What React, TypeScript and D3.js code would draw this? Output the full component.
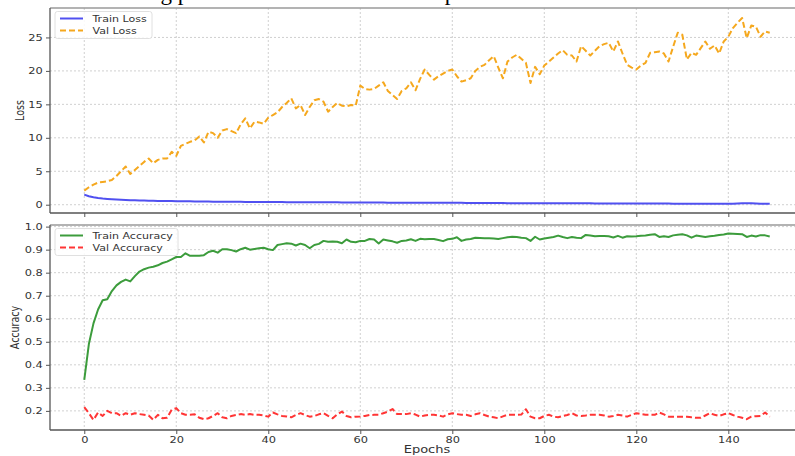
import React, { useEffect, useRef } from "react";
import * as d3 from "d3";

// epochs 0..149
const epochs = d3.range(150);

const trainLoss = [
  1.5, 1.26, 1.1, 0.99, 0.91, 0.85, 0.8, 0.76, 0.73, 0.7,
  0.68, 0.66, 0.64, 0.62, 0.6, 0.59, 0.57, 0.56, 0.55, 0.54,
  0.52, 0.51, 0.5, 0.5, 0.49, 0.48, 0.47, 0.47, 0.46, 0.45,
  0.45, 0.44, 0.44, 0.43, 0.43, 0.42, 0.42, 0.41, 0.41, 0.41,
  0.4, 0.4, 0.39, 0.39, 0.38, 0.38, 0.38, 0.37, 0.37, 0.37,
  0.36, 0.36, 0.36, 0.35, 0.35, 0.35, 0.34, 0.34, 0.34, 0.33,
  0.33, 0.33, 0.33, 0.32, 0.32, 0.32, 0.31, 0.31, 0.31, 0.31,
  0.3, 0.3, 0.3, 0.3, 0.29, 0.29, 0.29, 0.29, 0.28, 0.28,
  0.28, 0.28, 0.28, 0.27, 0.27, 0.27, 0.27, 0.27, 0.26, 0.26,
  0.24, 0.24, 0.23, 0.23, 0.23, 0.23, 0.22, 0.23, 0.22, 0.22,
  0.22, 0.21, 0.21, 0.21, 0.21, 0.21, 0.2, 0.2, 0.2, 0.2,
  0.2, 0.19, 0.19, 0.19, 0.19, 0.19, 0.18, 0.18, 0.18, 0.18,
  0.18, 0.18, 0.17, 0.17, 0.17, 0.17, 0.17, 0.17, 0.16, 0.16,
  0.16, 0.16, 0.16, 0.16, 0.15, 0.15, 0.15, 0.15, 0.15, 0.15,
  0.15, 0.16, 0.18, 0.2, 0.21, 0.2, 0.18, 0.16, 0.15, 0.15,
];

const valLoss = [
  2.1, 2.6, 3.0, 3.3, 3.4, 3.5, 3.7, 4.3, 5.0, 5.7,
  4.6, 5.2, 5.8, 6.4, 6.9, 6.2, 6.7, 6.9, 6.9, 7.9,
  7.3, 8.8, 9.1, 9.4, 9.6, 10.2, 9.3, 10.9, 10.7, 10.0,
  11.1, 11.3, 11.0, 10.7, 12.0, 12.9, 11.4, 12.4, 12.3, 12.1,
  13.0, 13.4, 13.8, 14.6, 15.2, 15.9, 14.4, 14.9, 13.4, 14.6,
  15.6, 15.8, 15.4, 13.9, 14.6, 15.2, 14.8, 14.7, 14.9, 14.8,
  17.8, 17.3, 17.2, 17.3, 17.8, 18.3, 17.0, 16.4, 15.8, 17.0,
  17.4, 18.3, 17.1, 18.8, 20.2, 19.4, 18.7, 19.2, 19.6, 20.0,
  20.2, 19.2, 18.4, 18.6, 18.9, 20.0, 20.6, 20.9, 21.6, 22.2,
  20.5, 18.9, 21.4, 22.0, 22.4, 21.8, 21.2, 18.2, 20.6, 19.5,
  20.8, 21.4, 22.0, 22.6, 23.1, 22.4, 22.3, 21.4, 23.7, 23.0,
  22.3, 23.0, 23.7, 24.0, 24.2, 22.9, 24.4, 22.6, 20.9, 20.5,
  20.2, 20.8, 21.2, 22.7, 22.8, 22.9, 22.6, 21.4, 23.6, 25.7,
  25.4, 21.7, 22.7, 22.4, 23.4, 24.4, 23.3, 23.8, 22.6, 24.4,
  25.1, 26.4, 27.2, 27.9, 24.9, 26.8, 26.6, 25.1, 25.9, 25.7,
];

const trainAcc = [
  0.335, 0.49, 0.58, 0.64, 0.68, 0.685, 0.72, 0.745, 0.76, 0.77,
  0.762, 0.785, 0.805, 0.815, 0.822, 0.826, 0.832, 0.842, 0.848, 0.858,
  0.868, 0.868, 0.884, 0.873, 0.874, 0.874, 0.876, 0.89, 0.895, 0.887,
  0.902, 0.902, 0.898, 0.892, 0.902, 0.908, 0.9, 0.903, 0.906, 0.908,
  0.902, 0.898, 0.92, 0.924, 0.928, 0.926, 0.918, 0.926, 0.92, 0.906,
  0.92, 0.925, 0.938, 0.934, 0.935, 0.934, 0.928, 0.944, 0.934, 0.932,
  0.938, 0.938, 0.946, 0.944, 0.927, 0.944, 0.94, 0.936, 0.93, 0.938,
  0.94, 0.945, 0.938, 0.947, 0.945, 0.946, 0.946, 0.942, 0.937, 0.945,
  0.947, 0.954, 0.938, 0.944, 0.946, 0.952, 0.951, 0.95, 0.949, 0.948,
  0.946, 0.95, 0.954, 0.956, 0.955, 0.952, 0.95, 0.938, 0.956, 0.944,
  0.948, 0.952, 0.955, 0.961, 0.955, 0.95, 0.955, 0.952, 0.95, 0.964,
  0.961, 0.958, 0.959, 0.959, 0.958, 0.953, 0.96, 0.952, 0.958, 0.957,
  0.958, 0.96, 0.961, 0.965, 0.967, 0.955, 0.958, 0.955, 0.962, 0.965,
  0.967, 0.962, 0.952, 0.961, 0.958, 0.955, 0.958, 0.96, 0.964, 0.966,
  0.97, 0.969, 0.968, 0.967, 0.955, 0.961, 0.957, 0.963, 0.962, 0.957,
];

const valAcc = [
  0.216, 0.19, 0.161, 0.193, 0.178, 0.2, 0.19, 0.19, 0.178, 0.19,
  0.183, 0.19, 0.186, 0.183, 0.18, 0.161, 0.183, 0.168, 0.17, 0.205,
  0.212, 0.19, 0.183, 0.183, 0.185, 0.17, 0.164, 0.168, 0.178, 0.19,
  0.172, 0.168, 0.178, 0.182, 0.186, 0.183, 0.186, 0.183, 0.183, 0.18,
  0.175, 0.193, 0.185, 0.178, 0.176, 0.172, 0.182, 0.19, 0.182, 0.175,
  0.178, 0.185, 0.19, 0.178, 0.168, 0.185, 0.197, 0.178, 0.172, 0.175,
  0.176, 0.178, 0.182, 0.183, 0.183, 0.19, 0.197, 0.208, 0.186, 0.186,
  0.186, 0.19, 0.184, 0.175, 0.18, 0.183, 0.183, 0.18, 0.175, 0.185,
  0.19, 0.186, 0.183, 0.183, 0.178, 0.185, 0.19, 0.182, 0.175, 0.172,
  0.168, 0.176, 0.183, 0.183, 0.183, 0.184, 0.207, 0.175, 0.168, 0.168,
  0.178, 0.183, 0.175, 0.172, 0.178, 0.182, 0.19, 0.18, 0.178, 0.18,
  0.183, 0.183, 0.183, 0.18, 0.175, 0.178, 0.183, 0.18, 0.175, 0.183,
  0.19, 0.186, 0.183, 0.183, 0.183, 0.193, 0.185, 0.175, 0.175, 0.175,
  0.175, 0.175, 0.172, 0.17, 0.17, 0.18, 0.19, 0.183, 0.178, 0.185,
  0.19, 0.182, 0.175, 0.17, 0.164, 0.175, 0.177, 0.178, 0.193, 0.175,
];

const xTicks = [0, 20, 40, 60, 80, 100, 120, 140];
const lossTicks = [0, 5, 10, 15, 20, 25];
const accTicks = [0.2, 0.3, 0.4, 0.5, 0.6, 0.7, 0.8, 0.9, 1.0];
const titleText = "Learning performance of model over epochs";

const W = 795;
const H = 456;
const FONT = "DejaVu Sans, sans-serif";

const App: React.FC = () => {
  const svgRef = useRef<SVGSVGElement | null>(null);

  useEffect(() => {
    const svg = d3.select(svgRef.current);
    svg.selectAll("*").remove();

    const left = 50;
    const right = 804;
    const x = d3.scaleLinear().domain([-7.45, 156.45]).range([left, right]);

    // clipped title from the page above the figure
    svg
      .append("text")
      .attr("x", 89)
      .attr("y", 0.3)
      .style("font-family", "Liberation Serif, Times New Roman, serif")
      .style("font-size", "23px")
      .attr("fill", "#000")
      .text(titleText);

    const panels = [
      {
        id: "loss",
        top: 8,
        bottom: 213,
        domain: [-1.24, 29.4],
        ticks: lossTicks,
        fmt: d3.format("d"),
        label: "Loss",
        labelX: 20,
        showX: false,
        series: [
          { name: "Train Loss", values: trainLoss, color: "#5050f0", dash: null },
          { name: "Val Loss", values: valLoss, color: "#f5a81e", dash: "6,3" },
        ],
        legendW: 97,
      },
      {
        id: "acc",
        top: 225,
        bottom: 430,
        domain: [0.117, 1.007],
        ticks: accTicks,
        fmt: d3.format(".1f"),
        label: "Accuracy",
        labelX: 15,
        showX: true,
        series: [
          { name: "Train Accuracy", values: trainAcc, color: "#3c9c3c", dash: null },
          { name: "Val Accuracy", values: valAcc, color: "#ff3535", dash: "6,3" },
        ],
        legendW: 123,
      },
    ];

    panels.forEach((p) => {
      const y = d3.scaleLinear().domain(p.domain).range([p.bottom, p.top]);
      const g = svg.append("g");

      g.append("clipPath")
        .attr("id", `clip-${p.id}`)
        .append("rect")
        .attr("x", left)
        .attr("y", p.top)
        .attr("width", right - left)
        .attr("height", p.bottom - p.top);

      // grid
      g.selectAll(".vgrid")
        .data(xTicks)
        .enter()
        .append("line")
        .attr("x1", (d) => x(d))
        .attr("x2", (d) => x(d))
        .attr("y1", p.top)
        .attr("y2", p.bottom)
        .attr("stroke", "#c4c4c4")
        .attr("stroke-width", 0.8)
        .attr("stroke-dasharray", "2,2");
      g.selectAll(".hgrid")
        .data(p.ticks)
        .enter()
        .append("line")
        .attr("x1", left)
        .attr("x2", right)
        .attr("y1", (d) => y(d))
        .attr("y2", (d) => y(d))
        .attr("stroke", "#c4c4c4")
        .attr("stroke-width", 0.8)
        .attr("stroke-dasharray", "2,2");

      // lines
      const plot = g.append("g").attr("clip-path", `url(#clip-${p.id})`);
      p.series.forEach((s) => {
        const line = d3
          .line<number>()
          .x((d, i) => x(epochs[i]))
          .y((d) => y(d));
        plot
          .append("path")
          .datum(s.values)
          .attr("fill", "none")
          .attr("stroke", s.color)
          .attr("stroke-width", 2)
          .attr("stroke-linejoin", "round")
          .attr("stroke-dasharray", s.dash)
          .attr("d", line);
      });

      // spines
      g.append("line")
        .attr("x1", left).attr("x2", W)
        .attr("y1", p.top).attr("y2", p.top)
        .attr("stroke", "#9a9a9a").attr("stroke-width", 1.3);
      g.append("line")
        .attr("x1", left).attr("x2", left)
        .attr("y1", p.top).attr("y2", p.bottom)
        .attr("stroke", "#555").attr("stroke-width", 1.3);
      g.append("line")
        .attr("x1", left).attr("x2", W)
        .attr("y1", p.bottom).attr("y2", p.bottom)
        .attr("stroke", "#555").attr("stroke-width", 1.3);

      // axes
      const axisY = d3.axisLeft(y).tickValues(p.ticks).tickFormat(p.fmt as any).tickSize(4).tickPadding(2).tickSizeOuter(0);
      const ay = g.append("g").attr("transform", `translate(${left},0)`).call(axisY);
      const axisX = d3
        .axisBottom(x)
        .tickValues(xTicks)
        .tickFormat(p.showX ? (d3.format("d") as any) : () => "")
        .tickSize(4)
        .tickPadding(2)
        .tickSizeOuter(0);
      const ax = g.append("g").attr("transform", `translate(0,${p.bottom})`).call(axisX);
      [ay, ax].forEach((a) => {
        a.select(".domain").remove();
        a.selectAll("line").attr("stroke", "#555").attr("stroke-width", 1);
        a.selectAll("text")
          .attr("fill", "#333")
          .attr("transform", "scale(1.2,1)")
          .style("font-family", FONT)
          .style("font-size", "9.5px");
      });

      // y label
      g.append("text")
        .attr("transform", `translate(${p.labelX},${(p.top + p.bottom) / 2}) scale(1.25,1) rotate(-90)`)
        .attr("text-anchor", "middle")
        .attr("dy", "0.35em")
        .attr("fill", "#333")
        .style("font-family", FONT)
        .style("font-size", "9.5px")
        .text(p.label);

      // legend
      const lg = g.append("g").attr("transform", `translate(55,${p.top + 3.5})`);
      lg.append("rect")
        .attr("width", p.legendW)
        .attr("height", 27)
        .attr("rx", 2.5)
        .attr("fill", "#fff")
        .attr("fill-opacity", 0.85)
        .attr("stroke", "#d8d8d8")
        .attr("stroke-width", 0.8);
      p.series.forEach((s, i) => {
        const ly = 7 + i * 12;
        lg.append("line")
          .attr("x1", 5).attr("x2", 28)
          .attr("y1", ly).attr("y2", ly)
          .attr("stroke", s.color)
          .attr("stroke-width", 2)
          .attr("stroke-dasharray", s.dash);
        lg.append("text")
          .attr("transform", `translate(37.5,${ly}) scale(1.2,1)`)
          .attr("dy", "0.35em")
          .attr("fill", "#333")
          .style("font-family", FONT)
          .style("font-size", "9.2px")
          .text(s.name);
      });
    });

    svg
      .append("text")
      .attr("transform", `translate(${(left + right) / 2},453) scale(1.3,1)`)
      .attr("text-anchor", "middle")
      .attr("fill", "#333")
      .style("font-family", FONT)
      .style("font-size", "10px")
      .text("Epochs");
  }, []);

  return (
    <svg
      ref={svgRef}
      width={W}
      height={H}
      style={{ position: "absolute", left: 0, top: 0, background: "#fff" }}
    ></svg>
  );
};

export default App;
